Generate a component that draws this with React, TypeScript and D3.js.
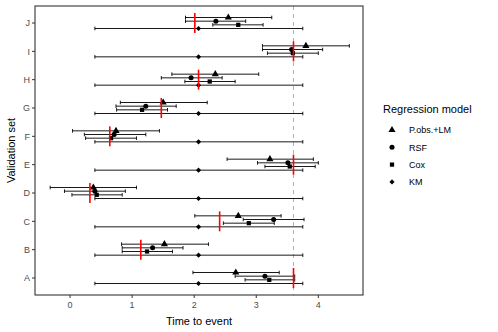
import React, { useEffect, useRef } from 'react';
import * as d3 from 'd3';

// validation sets and models
const sets = ["A", "B", "C", "D", "E", "F", "G", "H", "I", "J"];
const models = ["P.obs.+LM", "RSF", "Cox", "KM"];

// estimates / intervals per set (A..J)
const pobsEst = [2.67, 1.52, 2.71, 0.375, 3.22, 0.74, 1.50, 2.34, 3.80, 2.55];
const pobsLow = [1.98, 0.83, 2.01, -0.32, 2.53, 0.04, 0.81, 1.64, 3.10, 1.86];
const pobsHigh = [3.37, 2.23, 3.40, 1.07, 3.92, 1.44, 2.21, 3.04, 4.50, 3.25];

const rsfEst = [3.14, 1.33, 3.28, 0.40, 3.51, 0.71, 1.22, 1.95, 3.57, 2.35];
const rsfLow = [2.66, 0.84, 2.79, -0.09, 3.02, 0.23, 0.74, 1.47, 3.10, 1.86];
const rsfHigh = [3.62, 1.82, 3.77, 0.89, 4.00, 1.22, 1.71, 2.45, 4.07, 2.83];

const coxEst = [3.21, 1.24, 2.88, 0.43, 3.54, 0.66, 1.16, 2.25, 3.59, 2.71];
const coxLow = [2.82, 0.84, 2.47, 0.03, 3.14, 0.25, 0.75, 1.85, 3.18, 2.30];
const coxHigh = [3.62, 1.65, 3.29, 0.84, 3.95, 1.07, 1.57, 2.66, 4.00, 3.11];

const kmEst = [2.07, 2.07, 2.07, 2.07, 2.07, 2.07, 2.07, 2.07, 2.07, 2.07];
const kmLow = [0.40, 0.40, 0.40, 0.40, 0.40, 0.40, 0.40, 0.40, 0.40, 0.40];
const kmHigh = [3.75, 3.75, 3.75, 3.75, 3.75, 3.75, 3.75, 3.75, 3.75, 3.75];

// observed time per set (red marks) and censoring time (dashed)
const observed = [3.6, 1.14, 2.41, 0.32, 3.6, 0.64, 1.47, 2.07, 3.6, 2.01];
const censorTime = 3.6;

const xTicks = [0, 1, 2, 3, 4];

const App = () => {
    const chartRef = useRef<SVGSVGElement>(null);

    useEffect(() => {
        drawChart();
    }, []);

    const drawChart = () => {
        const svg = d3.select(chartRef.current);
        svg.selectAll("*").remove();

        const font = "'Liberation Sans', Arial, sans-serif";
        const panel = { left: 35, right: 363, top: 6, bottom: 295 };

        const est = [pobsEst, rsfEst, coxEst, kmEst];
        const low = [pobsLow, rsfLow, coxLow, kmLow];
        const high = [pobsHigh, rsfHigh, coxHigh, kmHigh];

        const rows: any[] = [];
        models.forEach((m, mi) => {
            sets.forEach((s, si) => {
                rows.push({ model: m, set: s, est: est[mi][si], low: low[mi][si], high: high[mi][si] });
            });
        });

        // scales
        const x = d3.scaleLinear()
            .domain([-0.565, 4.72])
            .range([panel.left, panel.right]);

        const step = (panel.bottom - panel.top) / (sets.length - 1 + 1.2);
        const y = d3.scalePoint<string>()
            .domain(sets.slice().reverse())
            .range([panel.top + 0.6 * step, panel.bottom - 0.6 * step]);

        const dodge = d3.scalePoint<string>()
            .domain(models)
            .range([-5.5, 5.5]);

        // KM uses a square turned 45 degrees (ggplot's diamond)
        const symbols: Record<string, any> = {
            "P.obs.+LM": d3.symbolTriangle,
            "RSF": d3.symbolCircle,
            "Cox": d3.symbolSquare,
            "KM": d3.symbolSquare
        };
        const sizes: Record<string, number> = { "P.obs.+LM": 22, "RSF": 20, "Cox": 18, "KM": 13 };
        const rot: Record<string, number> = { "P.obs.+LM": 0, "RSF": 0, "Cox": 0, "KM": 45 };

        // censoring line
        svg.append("line")
            .attr("x1", x(censorTime)).attr("x2", x(censorTime))
            .attr("y1", panel.top).attr("y2", panel.bottom)
            .attr("stroke", "#b3b3b3")
            .attr("stroke-width", 1)
            .attr("stroke-dasharray", "4,4");

        // error bars
        const g = svg.append("g");
        rows.forEach(d => {
            const cy = y(d.set)! + dodge(d.model)!;
            g.append("line")
                .attr("x1", x(d.low)).attr("x2", x(d.high))
                .attr("y1", cy).attr("y2", cy)
                .attr("stroke", "#000").attr("stroke-width", 0.9);
            [d.low, d.high].forEach(v => {
                g.append("line")
                    .attr("x1", x(v)).attr("x2", x(v))
                    .attr("y1", cy - 1.8).attr("y2", cy + 1.8)
                    .attr("stroke", "#000").attr("stroke-width", 0.9);
            });
        });

        // points
        rows.forEach(d => {
            const cy = y(d.set)! + dodge(d.model)!;
            g.append("path")
                .attr("d", d3.symbol().type(symbols[d.model]).size(sizes[d.model])())
                .attr("transform", `translate(${x(d.est)},${cy}) rotate(${rot[d.model]})`)
                .attr("fill", "#000");
        });

        // observed marks
        sets.forEach((s, i) => {
            svg.append("line")
                .attr("x1", x(observed[i])).attr("x2", x(observed[i]))
                .attr("y1", y(s)! - 10).attr("y2", y(s)! + 10)
                .attr("stroke", "#ff0000")
                .attr("stroke-width", 1.6);
        });

        // panel border
        svg.append("rect")
            .attr("x", panel.left).attr("y", panel.top)
            .attr("width", panel.right - panel.left)
            .attr("height", panel.bottom - panel.top)
            .attr("fill", "none")
            .attr("stroke", "#333")
            .attr("stroke-width", 1.1);

        // x axis
        const xa = svg.append("g");
        xTicks.forEach(t => {
            xa.append("line")
                .attr("x1", x(t)).attr("x2", x(t))
                .attr("y1", panel.bottom).attr("y2", panel.bottom + 3)
                .attr("stroke", "#333");
            xa.append("text")
                .attr("x", x(t)).attr("y", panel.bottom + 13)
                .attr("text-anchor", "middle")
                .attr("font-family", font).attr("font-size", 9)
                .attr("fill", "#4d4d4d")
                .text(t);
        });

        // y axis
        const ya = svg.append("g");
        sets.forEach(s => {
            ya.append("line")
                .attr("x1", panel.left - 3).attr("x2", panel.left)
                .attr("y1", y(s)).attr("y2", y(s))
                .attr("stroke", "#333");
            ya.append("text")
                .attr("x", panel.left - 5).attr("y", y(s)! + 3.2)
                .attr("text-anchor", "end")
                .attr("font-family", font).attr("font-size", 9)
                .attr("fill", "#4d4d4d")
                .text(s);
        });

        // axis titles
        svg.append("text")
            .attr("x", (panel.left + panel.right) / 2).attr("y", 325)
            .attr("text-anchor", "middle")
            .attr("font-family", font).attr("font-size", 11)
            .text("Time to event");

        svg.append("text")
            .attr("transform", `translate(15,${(panel.top + panel.bottom) / 2}) rotate(-90)`)
            .attr("text-anchor", "middle")
            .attr("font-family", font).attr("font-size", 11)
            .text("Validation set");

        // legend
        const legend = svg.append("g");
        legend.append("text")
            .attr("x", 383).attr("y", 113)
            .attr("font-family", font).attr("font-size", 11)
            .text("Regression model");
        models.forEach((m, i) => {
            const ly = 130 + i * 17.3;
            legend.append("path")
                .attr("d", d3.symbol().type(symbols[m]).size(sizes[m])())
                .attr("transform", `translate(392,${ly}) rotate(${rot[m]})`)
                .attr("fill", "#000");
            legend.append("text")
                .attr("x", 409).attr("y", ly + 3.2)
                .attr("font-family", font).attr("font-size", 9)
                .text(m);
        });
    };

    return (
        <svg ref={chartRef} width={498} height={332}
            style={{ position: 'absolute', left: 0, top: 0, background: '#fff' }}></svg>
    );
};

export default App;
